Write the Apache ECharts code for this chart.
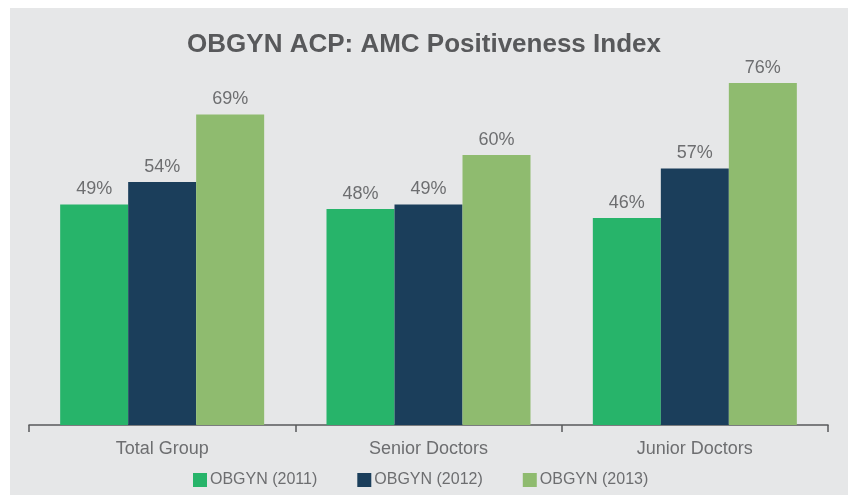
<!DOCTYPE html>
<html>
<head>
<meta charset="utf-8">
<script src="https://cdn.jsdelivr.net/npm/echarts@6/dist/echarts.min.js"></script>
<style>
    html, body { margin: 0; padding: 0; background: #fff; }
    #chart { width: 848px; height: 495px; }
</style>
</head>
<body>
<div id="chart"></div>
<script>
const categories = ["Total Group", "Senior Doctors", "Junior Doctors"];
const series2011 = [49, 48, 46];
const series2012 = [54, 49, 57];
const series2013 = [69, 60, 76];
const seriesNames = ["OBGYN (2011)", "OBGYN (2012)", "OBGYN (2013)"];

const textColor = "#6d6e70";
const myChart = echarts.init(document.getElementById("chart"));

const barLabel = {
    show: true,
    position: "top",
    distance: 6,
    formatter: "{c}%",
    fontSize: 18,
    color: textColor,
    fontFamily: "Liberation Sans",
};

const makeSeries = (name, values) => ({
    name: name,
    type: "bar",
    data: values,
    barWidth: 68,
    barGap: "0%",
    label: barLabel,
});

const option = {
    backgroundColor: "#fff",
    animation: false,
    color: ["#27b46a", "#1b3e5b", "#8fbb6f"],
    graphic: [
        {
            type: "rect",
            left: 10,
            top: 8,
            shape: { width: 838, height: 487 },
            style: { fill: "#e6e7e8" },
            z: -10,
        },
    ],
    title: {
        text: "OBGYN ACP: AMC Positiveness Index",
        left: "center",
        top: 27,
        textStyle: {
            fontSize: 26,
            fontWeight: "bold",
            color: "#58595b",
            fontFamily: "Liberation Sans",
        },
    },
    legend: {
        bottom: 7,
        left: 193,
        padding: 0,
        itemWidth: 14,
        itemHeight: 14,
        itemGap: 40,
        icon: "rect",
        textStyle: {
            fontSize: 16,
            color: textColor,
            fontFamily: "Liberation Sans",
            padding: [0, 0, 0, -2],
        },
        data: seriesNames,
    },
    grid: {
        left: 29,
        right: 20,
        top: 65,
        bottom: 70,
    },
    xAxis: {
        type: "category",
        data: categories,
        axisLine: { lineStyle: { color: "#58595b", width: 1.5 } },
        axisTick: { show: true, length: 7, lineStyle: { color: "#58595b", width: 1.5 } },
        axisLabel: {
            fontSize: 18,
            color: textColor,
            margin: 15,
            fontFamily: "Liberation Sans",
        },
    },
    yAxis: {
        type: "value",
        min: 0,
        max: 80,
        show: false,
        splitLine: { show: false },
    },
    series: [
        makeSeries(seriesNames[0], series2011),
        makeSeries(seriesNames[1], series2012),
        makeSeries(seriesNames[2], series2013),
    ],
};
myChart.setOption(option);
</script>
</body>
</html>
